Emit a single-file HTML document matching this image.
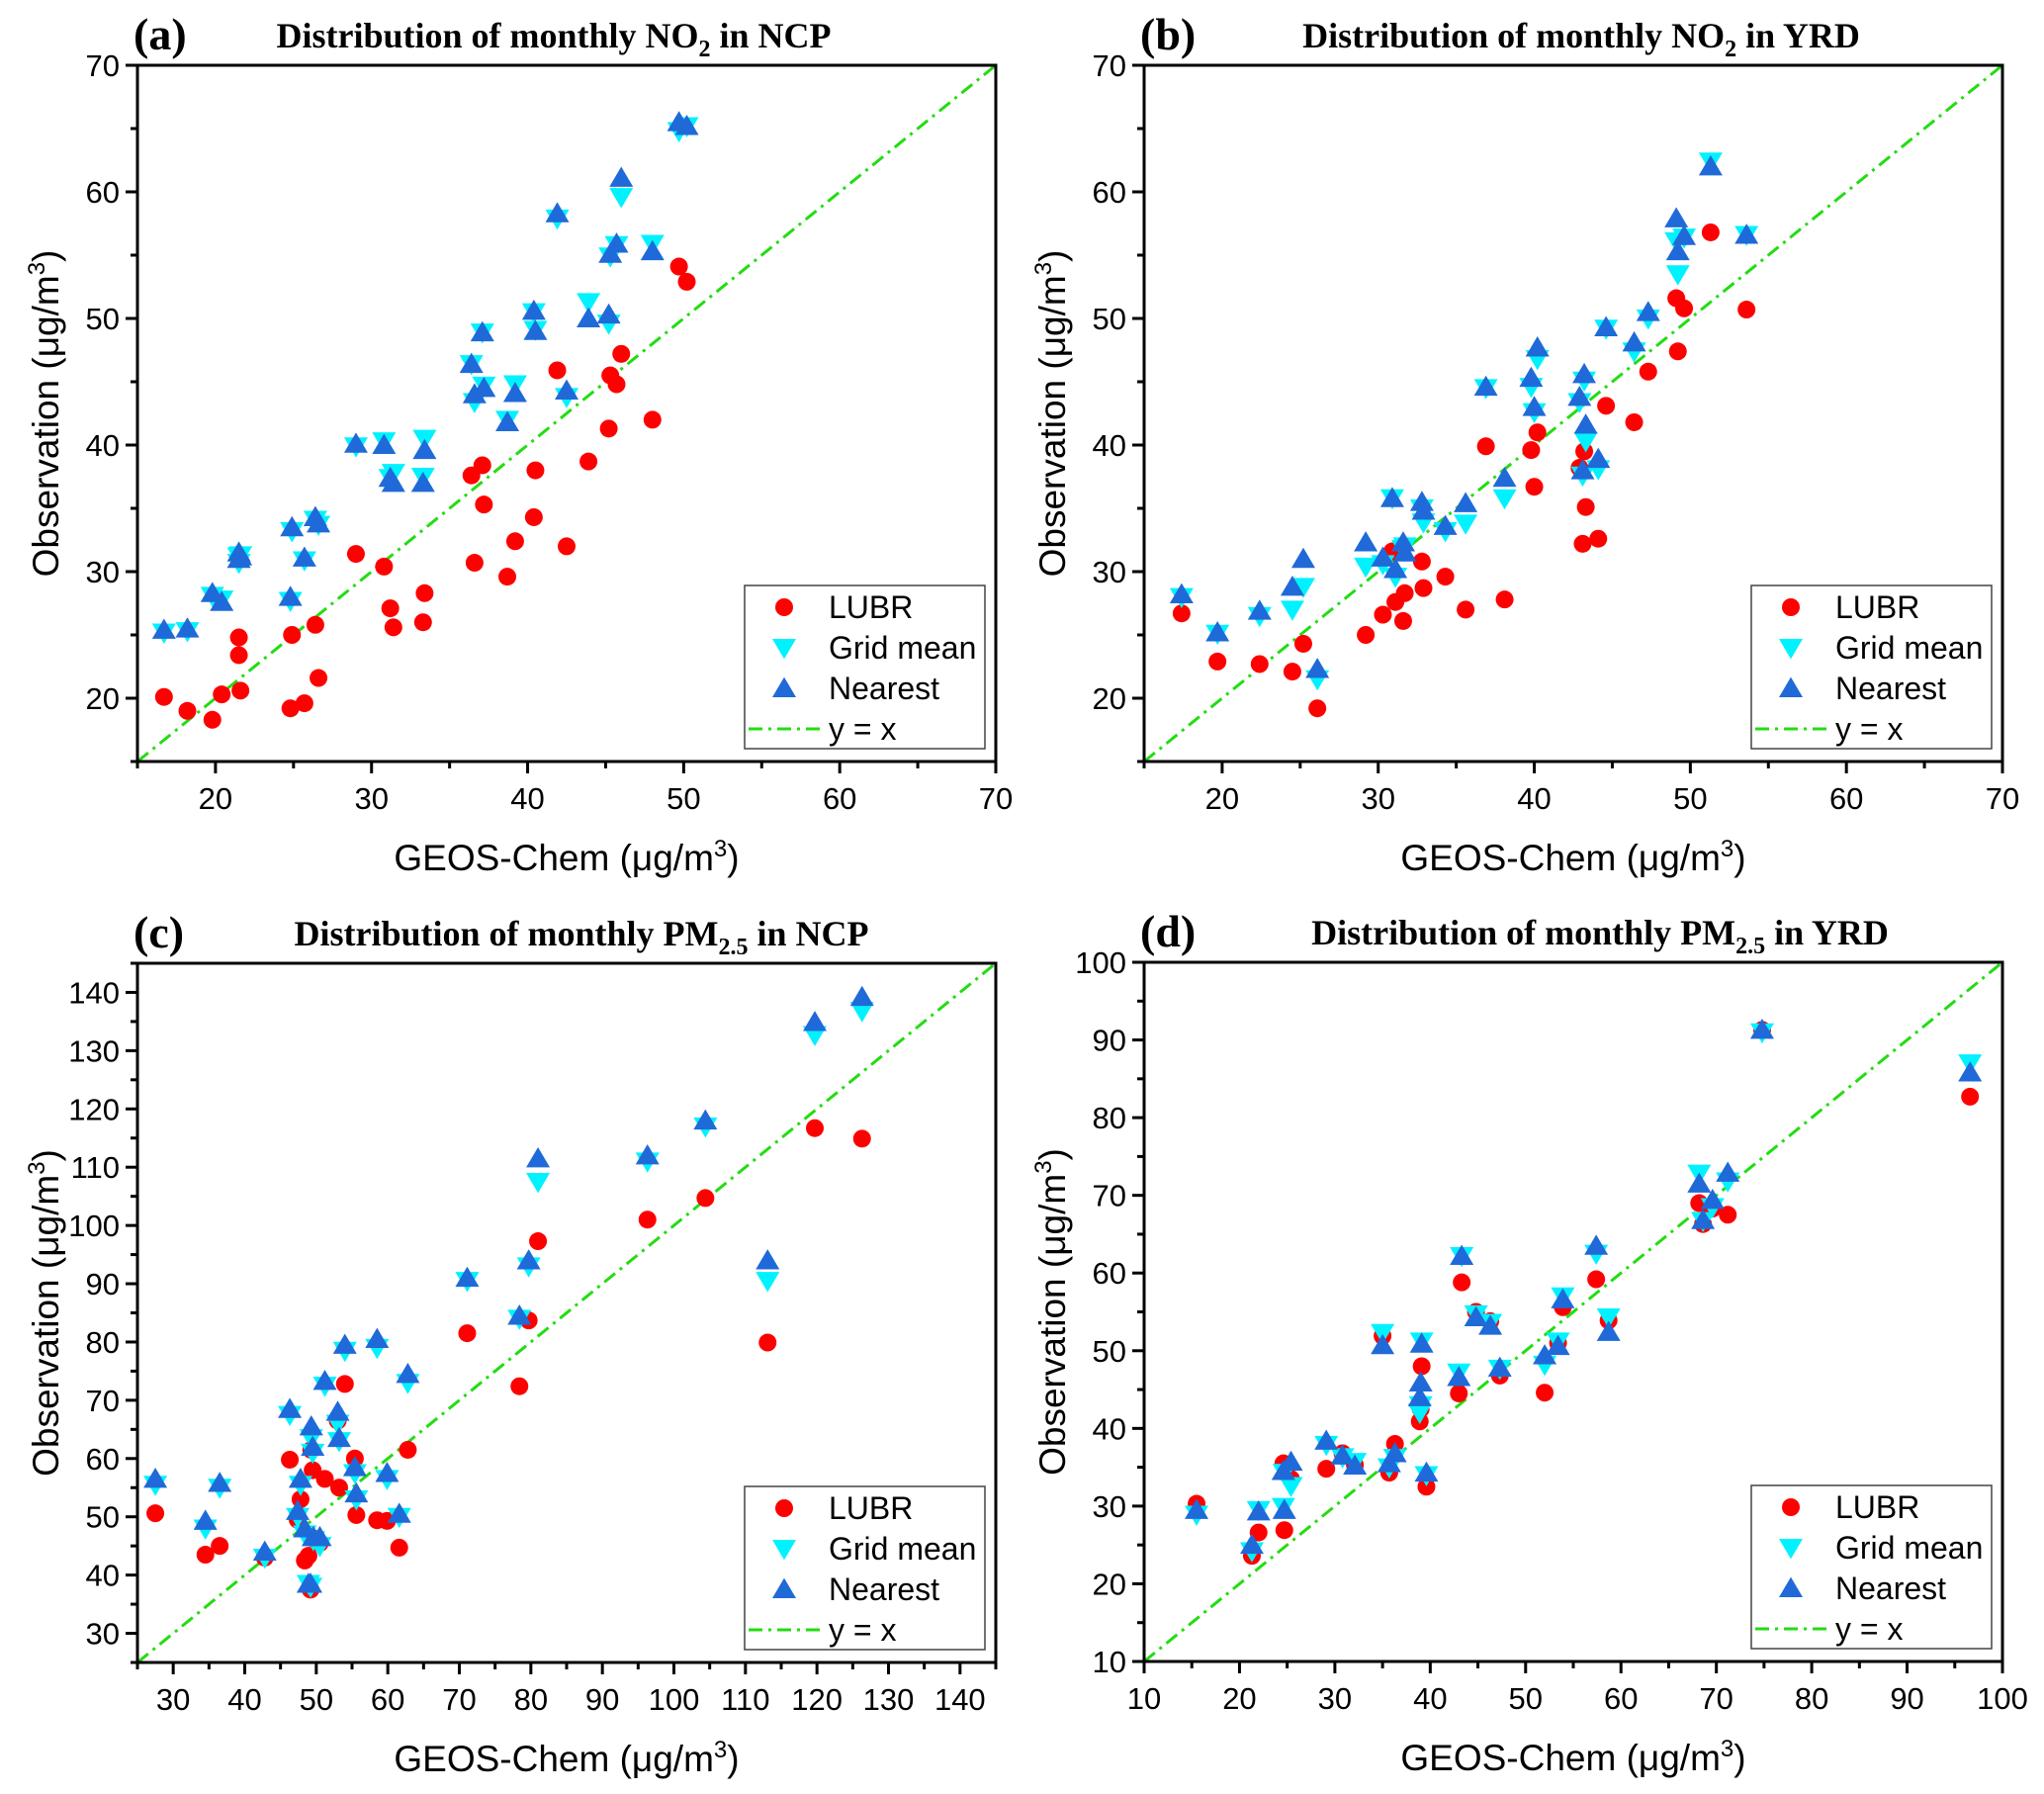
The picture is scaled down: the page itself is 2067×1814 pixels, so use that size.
<!DOCTYPE html>
<html><head><meta charset="utf-8"><style>
body{margin:0;background:#fff;}
svg{display:block;font-family:"Liberation Sans",Arial,sans-serif;}
.ttl{font-family:"Liberation Serif",serif;font-weight:bold;}
</style></head><body>
<svg id="fig" width="2067" height="1814" viewBox="0 0 2067 1814" xmlns="http://www.w3.org/2000/svg"></svg>
<script>
// ---- Panel (a): NO2 NCP ----
const aX = [16.7,18.2,19.8,20.4,21.5,21.5,21.6,24.8,24.9,25.7,26.4,26.6,29.0,30.8,31.2,31.4,33.3,33.4,36.4,36.6,37.1,37.2,38.7,39.2,40.4,40.5,41.9,42.5,43.9,45.2,45.3,45.7,46.0,48.0,49.7,50.2];
const aLUBR = [20.1,19.0,18.3,20.3,24.8,23.4,20.6,19.2,25.0,19.6,25.8,21.6,31.4,30.4,27.1,25.6,26.0,28.3,37.6,30.7,38.4,35.3,29.6,32.4,34.3,38.0,45.9,32.0,38.7,41.3,45.5,44.8,47.2,42.0,54.1,52.9];
const aGrid = [25.2,25.3,28.1,27.8,31.2,30.7,31.3,27.7,33.2,30.9,34.1,33.7,39.9,40.3,37.4,37.8,37.5,40.5,46.4,43.4,48.9,44.7,42.0,44.8,50.5,49.1,57.9,43.8,51.3,49.6,54.9,55.8,59.6,55.9,64.8,65.2];
const aNear = [25.4,25.5,28.3,27.6,31.0,31.5,31.2,28.0,33.5,31.1,34.3,33.8,40.1,40.0,37.4,37.0,37.0,39.6,46.4,44.0,48.9,44.5,41.8,44.1,50.6,49.0,58.3,44.3,50.0,50.3,55.1,55.9,61.1,55.3,65.5,65.2];
// ---- Panel (b): NO2 YRD ----
const bX = [17.4,19.7,22.4,24.5,25.2,26.1,29.2,30.3,30.9,31.1,31.6,31.7,32.8,32.9,34.3,35.6,36.9,38.1,39.8,40.0,40.2,42.9,43.1,43.2,43.3,44.1,44.6,46.4,47.3,49.1,49.2,49.6,51.3,53.6];
const bLUBR = [26.7,22.9,22.7,22.1,24.3,19.2,25.0,26.6,31.6,27.6,26.1,28.3,30.8,28.7,29.6,27.0,39.9,27.8,39.6,36.7,41.0,38.2,32.2,39.5,35.1,32.6,43.1,41.8,45.8,51.6,47.4,50.8,56.8,50.7];
const bGrid = [28.0,25.1,26.5,27.0,28.8,21.5,30.4,30.6,35.8,29.6,31.8,32.0,35.0,33.9,33.2,33.8,44.5,35.8,44.6,42.6,46.8,43.4,37.6,45.1,40.3,38.1,49.2,47.4,50.0,56.1,53.5,56.4,62.4,56.6];
const bNear = [28.2,25.2,26.9,28.8,31.0,22.3,32.3,31.1,35.8,30.2,32.3,31.5,35.5,34.8,33.6,35.4,44.6,37.4,45.3,43.0,47.7,43.8,38.0,45.6,41.6,38.9,49.3,48.1,50.5,57.9,55.3,56.5,62.0,56.6];
// ---- Panel (c): PM2.5 NCP ----
const cX = [27.5,34.5,36.5,42.8,46.3,47.4,47.8,48.4,48.9,49.2,49.3,49.5,49.6,50.5,51.2,53.0,53.2,54.0,55.4,55.6,58.5,59.9,61.6,62.8,71.1,78.4,79.7,81.0,96.3,104.4,113.1,119.7,126.3];
const cLUBR = [50.6,43.5,45.0,43.0,59.8,49.5,53.0,42.5,43.3,37.5,61.5,58.0,46.3,45.5,56.5,66.5,55.0,72.8,60.0,50.3,49.4,49.3,44.7,61.5,81.5,72.4,83.7,97.3,101.0,104.7,79.9,116.7,114.9];
const cGrid = [55.5,48.0,55.0,43.0,67.5,50.0,55.5,47.0,38.5,38.0,63.5,61.0,46.0,45.0,72.5,66.0,63.0,78.5,57.5,53.0,79.0,56.5,50.0,73.0,90.5,84.0,93.0,107.5,111.0,117.0,90.5,132.7,136.8];
const cNear = [56.5,49.3,55.8,44.0,68.5,51.0,56.5,48.0,38.5,38.5,65.5,62.0,46.5,46.5,73.3,68.0,63.5,79.5,58.5,54.0,80.5,57.5,50.5,74.5,91.0,84.5,94.0,111.5,112.0,118.0,94.0,134.9,139.2];
// ---- Panel (d): PM2.5 YRD ----
const dX = [15.5,21.3,22.0,24.6,24.7,25.4,29.1,30.8,32.1,35.0,35.7,36.3,38.9,39.0,39.1,39.6,43.0,43.3,44.8,46.3,47.3,52.0,53.4,53.9,57.4,58.7,68.2,68.6,69.6,71.2,74.8,96.6];
const dLUBR = [30.3,23.6,26.6,35.5,26.9,33.5,34.8,36.8,35.3,51.9,34.3,38.0,40.9,42.5,48.0,32.5,44.5,58.8,55.0,53.8,46.8,44.6,51.0,55.6,59.2,53.9,69.0,66.3,68.3,67.5,91.3,82.7];
const dGrid = [28.9,24.2,29.5,29.9,34.3,32.6,37.9,36.3,35.7,52.3,35.0,36.2,42.0,43.0,51.2,34.0,47.2,62.2,54.7,53.6,47.7,48.2,51.2,57.0,62.5,54.3,72.8,66.7,68.5,71.8,91.0,87.0];
const dNear = [29.5,25.0,29.3,34.5,29.5,35.7,38.4,36.5,35.2,50.7,35.5,36.8,44.0,45.9,50.9,34.3,46.6,62.2,54.3,53.2,47.8,49.4,50.6,56.6,63.5,52.4,71.5,66.8,69.4,72.9,91.3,85.8];

const NS='http://www.w3.org/2000/svg';
const svg=document.getElementById('fig');
function mk(tag,attrs,parent){const e=document.createElementNS(NS,tag);for(const k in attrs)e.setAttribute(k,attrs[k]);(parent||svg).appendChild(e);return e;}

const RED='#ff0000',CYAN='#00f2ff',BLUE='#1f6ad8',LINE='#22dd11';

function circle(g,x,y){return mk('circle',{cx:x,cy:y,r:9,fill:RED},g);}
function tdown(g,x,y){const s=12;return mk('polygon',{points:`${x-s},${y-s*0.75} ${x+s},${y-s*0.75} ${x},${y+s*0.95}`,fill:CYAN},g);}
function tup(g,x,y){const s=12;return mk('polygon',{points:`${x-s},${y+s*0.75} ${x+s},${y+s*0.75} ${x},${y-s*0.95}`,fill:BLUE},g);}

function panel(o){
  const g=mk('g',{});
  
  
  const sx=v=>o.L+(v-o.x0)/(o.x1-o.x0)*(o.R-o.L);
  const sy=v=>o.B-(v-o.y0)/(o.y1-o.y0)*(o.B-o.T);
  const ln=mk('line',{x1:sx(o.x0),y1:sy(o.x0),x2:sx(o.x1),y2:sy(o.x1),stroke:LINE,'stroke-width':3,'stroke-dasharray':'14 6 3 6'},g);
  
  
  const s1=mk('g',{},g);
  o.X.forEach((x,i)=>{const c=circle(s1,sx(x),sy(o.l[i]));});
  const s2=mk('g',{},g);
  o.X.forEach((x,i)=>{const c=tdown(s2,sx(x),sy(o.gm[i]));});
  const s3=mk('g',{},g);
  o.X.forEach((x,i)=>{const c=tup(s3,sx(x),sy(o.n[i]));});
  const fr=mk('rect',{x:o.L,y:o.T,width:o.R-o.L,height:o.B-o.T,fill:'none',stroke:'#000','stroke-width':3},g);
  
  const xa=mk('g',{},g);
  for(let v=o.x0;v<=o.x1+1e-9;v+=o.minor){
    const major=Math.abs((v-o.xm0)/o.major-Math.round((v-o.xm0)/o.major))<1e-6 && v>=o.xm0;
    const X=sx(v);
    mk('line',{x1:X,y1:o.B,x2:X,y2:o.B+(major?12:7),stroke:'#000','stroke-width':3},xa);
    if(major){const t=mk('text',{x:X,y:o.B+48,'font-size':31,'text-anchor':'middle',fill:'#000'},xa);t.textContent=Math.round(v);
      }
  }
  const ya=mk('g',{},g);
  for(let v=o.y0;v<=o.y1+1e-9;v+=o.minor){
    const major=Math.abs((v-o.ym0)/o.major-Math.round((v-o.ym0)/o.major))<1e-6 && v>=o.ym0;
    const Y=sy(v);
    mk('line',{x1:o.L,y1:Y,x2:o.L-(major?12:7),y2:Y,stroke:'#000','stroke-width':3},ya);
    if(major){const t=mk('text',{x:o.L-18,y:Y+11,'font-size':31,'text-anchor':'end',fill:'#000'},ya);t.textContent=Math.round(v);
      }
  }
  const xt=mk('text',{x:(o.L+o.R)/2,y:o.B+110,'font-size':37,'text-anchor':'middle',fill:'#000'},g);
  
  xt.innerHTML='GEOS-Chem (μg/m<tspan dy="-14" font-size="24">3</tspan><tspan dy="14">)</tspan>';
  const cy=(o.T+o.B)/2, cx=o.L-80;
  const yt=mk('text',{x:cx,y:cy,'font-size':37,'text-anchor':'middle',fill:'#000',transform:`rotate(-90 ${cx} ${cy})`},g);
  
  yt.innerHTML='Observation (μg/m<tspan dy="-14" font-size="24">3</tspan><tspan dy="14">)</tspan>';
  const pl=mk('text',{x:o.L-4,y:o.T-16,'font-size':46,class:'ttl',fill:'#000'},g);
  
  pl.textContent=o.letter;
  const tt=mk('text',{x:o.tx,y:o.T-18,'font-size':36,'text-anchor':'middle',class:'ttl',fill:'#000'},g);
  
  tt.innerHTML=o.title;
  const lg=mk('g',{},g);
  const lx=o.R-254, ly=o.B-178;
  mk('rect',{x:lx,y:ly,width:243,height:165,fill:'#fff',stroke:'#444','stroke-width':1.5},lg);
  const labels=['LUBR','Grid mean','Nearest','y = x'];
  labels.forEach((lab,i)=>{
    const yy=ly+22+i*41;
    const mx=lx+40;
    let m;
    if(i===0)m=circle(lg,mx,yy);
    else if(i===1)m=tdown(lg,mx,yy);
    else if(i===2)m=tup(lg,mx,yy);
    else m=mk('line',{x1:lx+4,y1:yy,x2:lx+78,y2:yy,stroke:LINE,'stroke-width':3,'stroke-dasharray':'14 6 3 6'},lg);
    
    const t=mk('text',{x:lx+85,y:yy+11,'font-size':32,fill:'#000'},lg);
    t.textContent=lab;
    
  });
}

panel({name:'panel-a',letter:'(a)',L:139,T:66,R:1007,B:770,x0:15,x1:70,y0:15,y1:70,xm0:20,ym0:20,major:10,minor:5,X:aX,l:aLUBR,gm:aGrid,n:aNear,tx:560,
  title:'Distribution of monthly NO<tspan dy="9" font-size="24">2</tspan><tspan dy="-9"> in NCP</tspan>'});
panel({name:'panel-b',letter:'(b)',L:1157,T:66,R:2025,B:770,x0:15,x1:70,y0:15,y1:70,xm0:20,ym0:20,major:10,minor:5,X:bX,l:bLUBR,gm:bGrid,n:bNear,tx:1599,
  title:'Distribution of monthly NO<tspan dy="9" font-size="24">2</tspan><tspan dy="-9"> in YRD</tspan>'});
panel({name:'panel-c',letter:'(c)',L:139,T:974,R:1007,B:1681,x0:25,x1:145,y0:25,y1:145,xm0:30,ym0:30,major:10,minor:5,X:cX,l:cLUBR,gm:cGrid,n:cNear,tx:588,
  title:'Distribution of monthly PM<tspan dy="9" font-size="24">2.5</tspan><tspan dy="-9"> in NCP</tspan>'});
panel({name:'panel-d',letter:'(d)',L:1157,T:973,R:2025,B:1680,x0:10,x1:100,y0:10,y1:100,xm0:10,ym0:10,major:10,minor:5,X:dX,l:dLUBR,gm:dGrid,n:dNear,tx:1618,
  title:'Distribution of monthly PM<tspan dy="9" font-size="24">2.5</tspan><tspan dy="-9"> in YRD</tspan>'});
</script>
</body></html>
